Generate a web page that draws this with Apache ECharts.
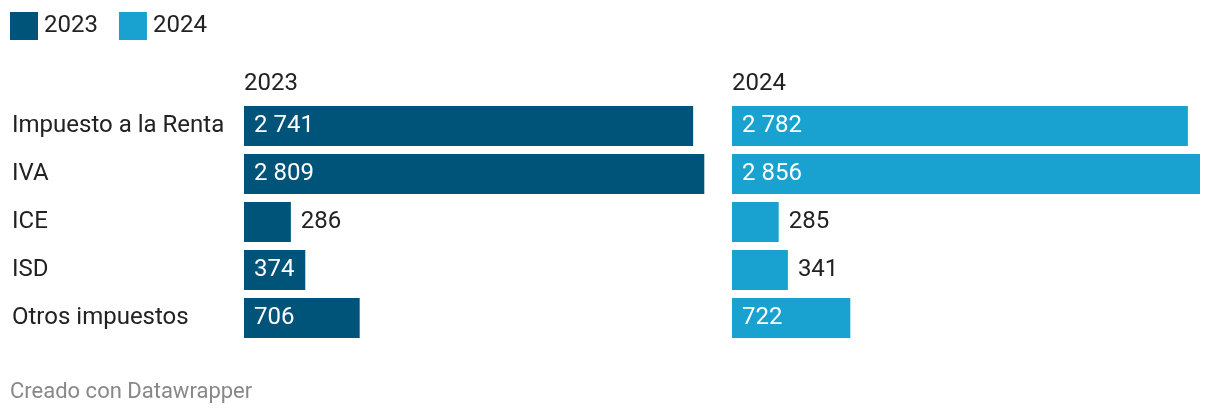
<!DOCTYPE html>
<html><head><meta charset="utf-8">
<script src="https://cdn.jsdelivr.net/npm/echarts@6/dist/echarts.min.js"></script>
<style>html,body{margin:0;padding:0;background:#fff}#c{width:1220px;height:416px}</style>
</head><body><div id="c"></div>
<script>
const categories = ["Impuesto a la Renta", "IVA", "ICE", "ISD", "Otros impuestos"];
const years = ["2023", "2024"];
const values2023 = [2741, 2809, 286, 374, 706];
const values2024 = [2782, 2856, 285, 341, 722];
const colors = ["#015479", "#19a2cf"];

const maxVal = Math.max(...values2023, ...values2024);
const fmt = v => String(v).replace(/\B(?=(\d{3})+(?!\d))/g, " ");
const FONT = "Roboto";
const FS = 24;

function barData(vals) {
  return vals.map(v => {
    const inside = v >= 360;
    return {
      value: v,
      label: inside
        ? {position: "insideLeft", distance: 10, color: "#ffffff"}
        : {position: "right", distance: 10, color: "#222222"}
    };
  });
}

const chart = echarts.init(document.getElementById("c"), null, {renderer: "canvas"});
chart.setOption({
  animation: false,
  textStyle: {fontFamily: FONT},
  legend: {
    left: 10, top: 12, padding: 0, itemWidth: 28, itemHeight: 28, itemGap: 21, icon: "rect",
    textStyle: {fontFamily: FONT, fontSize: FS, color: "#222", padding: [2, 0, 0, 1]},
    data: years
  },
  title: [
    {text: years[0], left: 244, top: 72, padding: 0, textStyle: {fontFamily: FONT, fontSize: FS, fontWeight: "normal", color: "#222"}},
    {text: years[1], left: 732, top: 72, padding: 0, textStyle: {fontFamily: FONT, fontSize: FS, fontWeight: "normal", color: "#222"}},
    {text: "Creado con Datawrapper", left: 10, top: 381, padding: 0, textStyle: {fontFamily: FONT, fontSize: 22, fontWeight: "normal", color: "#888"}}
  ],
  grid: [
    {left: 244, top: 102, width: 468, height: 240},
    {left: 732, top: 102, width: 468, height: 240}
  ],
  xAxis: [0, 1].map(i => ({
    type: "value", gridIndex: i, min: 0, max: maxVal, show: false
  })),
  yAxis: [0, 1].map(i => ({
    type: "category", gridIndex: i, data: categories, inverse: true,
    axisLine: {show: false}, axisTick: {show: false}, splitLine: {show: false},
    axisLabel: i === 0
      ? {show: true, align: "left", margin: 232, fontFamily: FONT, fontSize: FS, color: "#222"}
      : {show: false}
  })),
  series: [
    {name: years[0], type: "bar", xAxisIndex: 0, yAxisIndex: 0, barWidth: 40,
     itemStyle: {color: colors[0]}, data: barData(values2023),
     label: {show: true, fontFamily: FONT, fontSize: FS, formatter: p => fmt(p.value)}},
    {name: years[1], type: "bar", xAxisIndex: 1, yAxisIndex: 1, barWidth: 40,
     itemStyle: {color: colors[1]}, data: barData(values2024),
     label: {show: true, fontFamily: FONT, fontSize: FS, formatter: p => fmt(p.value)}}
  ]
});
</script>
</body></html>
